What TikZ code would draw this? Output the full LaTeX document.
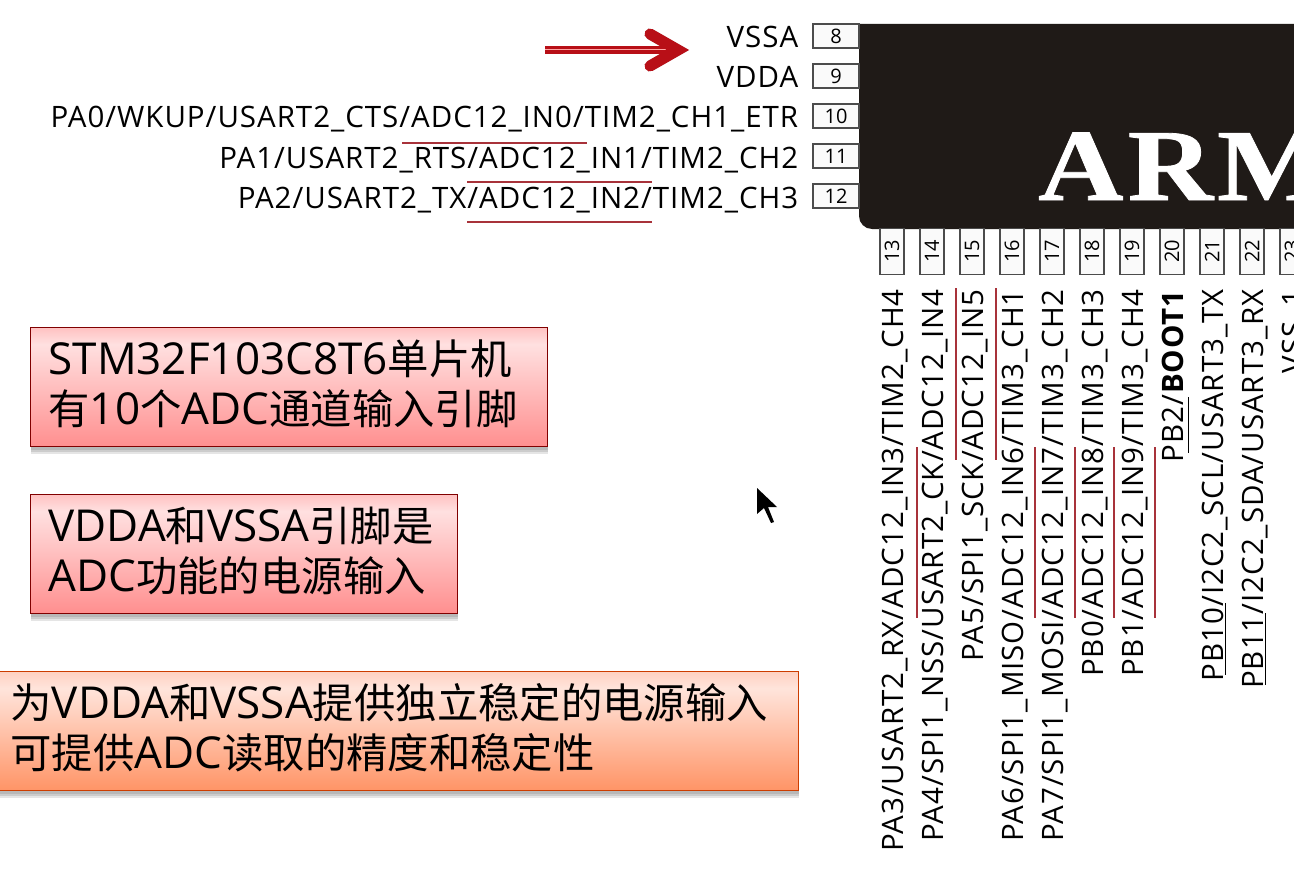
\documentclass[tikz,border=0pt]{standalone}
\usepackage{fontspec}
\setmainfont{Open Sans}
\newfontfamily\pinfont[LetterSpace=3.3]{Open Sans}
\newfontfamily\cjk[Scale=0.94]{Noto Sans CJK SC}
\newfontfamily\armfont[FakeStretch=1.16,LetterSpace=4,BoldFeatures={FakeBold=0.8}]{Liberation Serif}
\usetikzlibrary{positioning,shadows,calc}

\definecolor{chipblack}{HTML}{1F1A17}
\definecolor{arrowred}{HTML}{B80F17}
\definecolor{markred}{HTML}{A8323A}

\newcommand{\notestrut}{\rule[-10pt]{0pt}{10pt}}

\pgfdeclareverticalshading{redfade}{100bp}{
	color(0bp)=(red!44!white);
	color(25bp)=(red!44!white);
	color(68bp)=(red!12!white);
	color(75bp)=(red!24!white);
	color(100bp)=(red!24!white)}
\pgfdeclareverticalshading{orangefade}{100bp}{
	color(0bp)=(orange!60!red!60!white);
	color(25bp)=(orange!60!red!60!white);
	color(68bp)=(orange!50!red!14!white);
	color(75bp)=(orange!50!red!24!white);
	color(100bp)=(orange!50!red!24!white)}

\begin{document}
\begin{tikzpicture}[x=1pt, y=-1pt,
					pinbox/.style = {draw=black!70, fill=black!2, line width=1.2pt, inner sep=0pt,
						minimum width=46pt, minimum height=24pt, font=\fontsize{20}{20}\selectfont},
					pinlabel/.style = {inner sep=0pt, text height=28pt, text depth=4pt,
						font=\pinfont\fontsize{29.5}{32}\selectfont},
					notebox/.style = {anchor=north west, align=left, inner sep=0pt, line width=1.2pt,
						font=\fontsize{44}{50}\selectfont,
						drop shadow={shadow xshift=0pt, shadow yshift=-3pt, opacity=0.25},
						drop shadow={shadow xshift=0pt, shadow yshift=-5pt, opacity=0.25},
						drop shadow={shadow xshift=0pt, shadow yshift=-7pt, opacity=0.2}},
					redbox/.style = {notebox, draw=red!50!black, shading=redfade},
					orangebox/.style = {notebox, draw=orange!60!red!80!black, shading=orangefade},
					markline/.style = {draw=markred, line width=1.2pt},
					underline/.style = {draw=black, line width=1pt}
				]

	\useasboundingbox (0,0) rectangle (1294,883);
	\fill[white] (0,0) rectangle (1294,883);
	\clip (0,0) rectangle (1294,883);

	\fill[chipblack] (1340,24) -- (859,24) [rounded corners=13pt] -- (859,229) -- (1340,229) -- cycle;
	\node[text=white, inner sep=0pt, anchor=base west,
		font=\armfont\bfseries\fontsize{102}{102}\selectfont] (chipname) at (1038,200) {ARM};

	\foreach \num/\ypos/\txt in {
		8/36/{VSSA},
		9/76/{VDDA},
		10/116/{PA0/WKUP/USART2\_CTS/ADC12\_IN0/TIM2\_CH1\_ETR},
		11/156/{PA1/USART2\_RTS/ADC12\_IN1/TIM2\_CH2},
		12/196/{PA2/USART2\_TX/ADC12\_IN2/TIM2\_CH3}
	}{
		\node[pinbox] (pin\num) at (836,\ypos) {\num};
		\node[pinlabel, left=14pt of pin\num] (label\num) {\txt};
	}

	\foreach \num/\xpos/\txt in {
		13/892/{PA3/USART2\_RX/ADC12\_IN3/TIM2\_CH4},
		14/932/{PA4/SPI1\_NSS/USART2\_CK/ADC12\_IN4},
		15/972/{PA5/SPI1\_SCK/ADC12\_IN5},
		16/1012/{PA6/SPI1\_MISO/ADC12\_IN6/TIM3\_CH1},
		17/1052/{PA7/SPI1\_MOSI/ADC12\_IN7/TIM3\_CH2},
		18/1092/{PB0/ADC12\_IN8/TIM3\_CH3},
		19/1132/{PB1/ADC12\_IN9/TIM3\_CH4},
		20/1172/{PB2/\textbf{BOOT1}},
		21/1212/{PB10/I2C2\_SCL/USART3\_TX},
		22/1252/{PB11/I2C2\_SDA/USART3\_RX},
		23/1292/{VSS\_1}
	}{
		\node[pinbox, rotate=90] (pin\num) at (\xpos,251.5) {\num};
		\node[pinlabel, rotate=90, anchor=east] (label\num) at ($(pin\num.west)+(-1,14)$) {\txt};
	}

	\foreach \xa/\ya/\xb/\yb in {
		402/143/587/143,
		467/182/652/182,
		467/222/652/222,
		917/447/917/618,
		956/288/956/460,
		996/288/996/460,
		1035/447/1035/618,
		1075/447/1075/618,
		1114/447/1114/618,
		1155/447/1155/618
	}{
		\draw[markline] (\xa,\ya) -- (\xb,\yb);
	}

	\draw[underline] (1188,397) -- (1188,453);
	\draw[underline] (1225,603) -- (1225,675);
	\draw[underline] (1265,613) -- (1265,685);

	\coordinate (arrowtail) at (545,50);
	\coordinate (arrowneck) at (678,50);
	\coordinate (arrowtop) at (650,34);
	\coordinate (arrowbottom) at (650,66);

	\draw[black, opacity=0.2, line width=8pt, shift={(1,4)}] (arrowtail) -- (arrowneck);
	\draw[black, opacity=0.2, line width=11pt, line cap=round, shift={(1,4)}] (arrowtop) -- (arrowneck) -- (arrowbottom);
	\draw[arrowred, line width=8pt] (arrowtail) -- (arrowneck);
	\draw[red!35!white, line width=1pt] (arrowtail) -- ($(arrowneck)+(-12,0)$);
	\draw[arrowred, line width=11pt, line cap=round, miter limit=10] (arrowtop) -- (arrowneck) -- (arrowbottom);

	\node[redbox, minimum width=517pt, minimum height=119pt, text width=481pt] (note1) at (30,327)
		{STM32F103C8T6{\cjk 单片机}\\{\cjk 有}10{\cjk 个}ADC{\cjk 通道输入引脚}\notestrut};
	\node[redbox, minimum width=427pt, minimum height=119pt, text width=391pt] (note2) at (30,494)
		{VDDA{\cjk 和}VSSA{\cjk 引脚是}\\ADC{\cjk 功能的电源输入}\notestrut};
	\node[orangebox, minimum width=800pt, minimum height=119pt, text width=776pt] (note3) at (-2,671)
		{{\cjk 为}VDDA{\cjk 和}VSSA{\cjk 提供独立稳定的电源输入}\\{\cjk 可提供}ADC{\cjk 读取的精度和稳定性}\notestrut};

	\fill[black] (757,488) -- (757,514) -- (764,508) -- (771,523) -- (774,522) -- (768,507) -- (777,507) -- cycle;
\end{tikzpicture}
\end{document}
